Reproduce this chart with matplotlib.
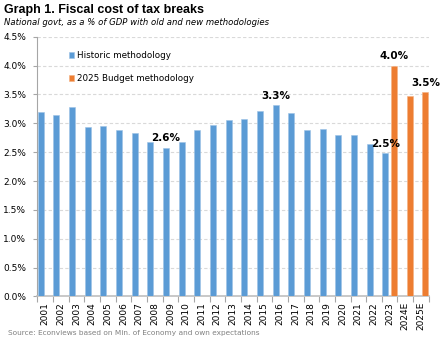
import numpy as np
import matplotlib
matplotlib.use("Agg")
import matplotlib.pyplot as plt

# data (% of GDP)
years = [str(y) for y in range(2001, 2024)] + ["2024E", "2025E"]
historic = [3.20, 3.15, 3.29, 2.93, 2.95, 2.88, 2.83, 2.67, 2.58, 2.67,
            2.88, 2.97, 3.05, 3.08, 3.22, 3.31, 3.17, 2.89, 2.90, 2.79,
            2.80, 2.64, 2.49, np.nan, np.nan]
budget = [np.nan] * 22 + [4.00, 3.48, 3.54]

# which bars get a value label (by index)
labelled_hist = [8, 15, 22]
labelled_budget = [22, 24]

blue = "#5B9BD5"
orange = "#ED7D31"

plt.rcParams["font.family"] = "DejaVu Sans"

fig = plt.figure(figsize=(4.43, 3.40), dpi=100)
ax = fig.add_axes([0.084, 0.128, 0.884, 0.764])

x = np.arange(len(years))
w = 0.38
off = 0.285
ax.bar(x - off, historic, width=w, color=blue, edgecolor="#9DC3E6", linewidth=0.4,
       label="Historic methodology", zorder=3)
ax.bar(x + off, budget, width=w, color=orange, edgecolor="#F4B183", linewidth=0.4,
       label="2025 Budget methodology", zorder=3)

for i in labelled_hist:
    ax.annotate(f"{historic[i]:.1f}%", (x[i] - off, historic[i]), xytext=(0, 3),
                textcoords="offset points", ha="center", va="bottom",
                fontsize=7.5, fontweight="bold", zorder=5)
for i in labelled_budget:
    ax.annotate(f"{budget[i]:.1f}%", (x[i] + off, budget[i]), xytext=(0, 3),
                textcoords="offset points", ha="center", va="bottom",
                fontsize=7.5, fontweight="bold", zorder=5)

ax.set_ylim(0, 4.5)
ax.set_xlim(-0.5, len(years) - 0.5)
yt = np.arange(0, 4.51, 0.5)
ax.set_yticks(yt)
ax.set_yticklabels([f"{v:.1f}%" for v in yt], fontsize=6.5)
ax.yaxis.grid(True, color="#D9D9D9", linestyle=(0, (3, 2)), linewidth=0.8, zorder=0)

ax.set_xticks(x)
ax.set_xticklabels(years, rotation=90, fontsize=6.5)
ax.set_xticks(np.arange(-0.5, len(years)), minor=True)
ax.tick_params(axis="x", which="major", length=0, pad=4)
ax.tick_params(axis="x", which="minor", length=4, color="#A6A6A6", width=0.8)
ax.tick_params(axis="y", length=3, color="#A6A6A6", width=0.8, pad=5)

for s in ["top", "right"]:
    ax.spines[s].set_visible(False)
ax.spines["left"].set_color("#A6A6A6")
ax.spines["bottom"].set_color("#BFBFBF")
ax.spines["bottom"].set_linewidth(1.2)

ax.legend(loc="upper left", bbox_to_anchor=(0.06, 0.975), frameon=False, fontsize=6.3,
          handlelength=0.6, handleheight=0.6, handletextpad=0.4, labelspacing=1.6)

fig.text(0.008, 0.972, "Graph 1. Fiscal cost of tax breaks", fontsize=9,
         fontweight="bold", family="Liberation Sans", va="center", ha="left")
fig.text(0.008, 0.935, "National govt, as a % of GDP with old and new methodologies",
         fontsize=6.1, style="italic", va="center", ha="left")
fig.text(0.018, 0.02, "Source: Econviews based on Min. of Economy and own expectations",
         fontsize=5.35, color="#808080", va="center", ha="left")

fig.savefig("out.png", dpi=100)
